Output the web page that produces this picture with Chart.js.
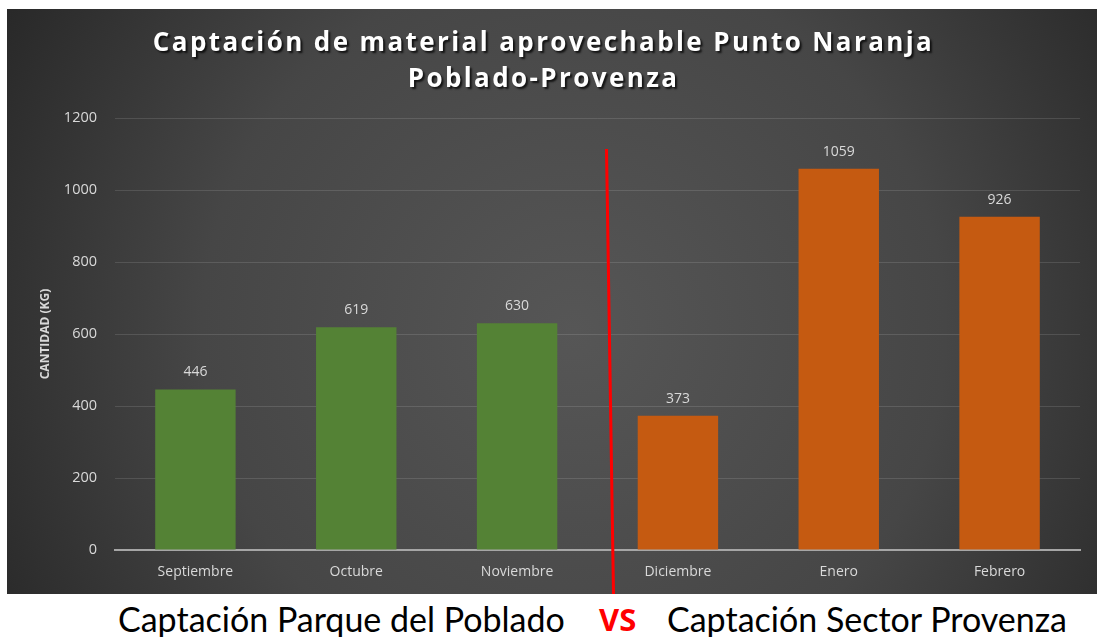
<!DOCTYPE html>
<html lang="es">
<head>
<meta charset="utf-8">
<title>Captación de material aprovechable Punto Naranja</title>
<script src="https://cdn.jsdelivr.net/npm/chart.js@4.4.1/dist/chart.umd.min.js"></script>
<style>
  html, body { margin: 0; padding: 0; background: #fff; width: 1097px; height: 637px; overflow: hidden; }
  #panel { position: absolute; left: 7px; top: 9px; width: 1090px; height: 585px; }
  .caption { position: absolute; top: 601px; font-family: Lato, 'Open Sans', sans-serif; font-size: 34px; line-height: 36px; color: #000; white-space: nowrap; }
  .vs { color: #ff0000; font-weight: bold; font-family: 'Open Sans', sans-serif; font-size: 31px; }
</style>
</head>
<body>
<div id="panel"><canvas id="chartMain"></canvas></div>
<div class="caption" style="left:118px;">Captación Parque del Poblado</div>
<div class="caption vs" style="left:599px;">VS</div>
<div class="caption" style="left:667px;">Captación Sector Provenza</div>

<script>
const months = ['Septiembre', 'Octubre', 'Noviembre', 'Diciembre', 'Enero', 'Febrero'];
const cantidadKg = [446, 619, 630, 373, 1059, 926];
const barColors = ['#548235', '#548235', '#548235', '#C55A11', '#C55A11', '#C55A11'];
const titleLines = ['Captación de material aprovechable Punto Naranja', 'Poblado-Provenza'];
const yAxisTitle = 'CANTIDAD (KG)';
const yRange = [0, 1200];
const yStep = 200;

const textColor = '#d9d9d9';

// dark radial background of the Excel chart area
const backgroundPlugin = {
  id: 'panelBackground',
  beforeDraw(chart) {
    const { ctx, width, height } = chart;
    const grad = ctx.createRadialGradient(width * 0.52, height * 0.55, 0, width * 0.52, height * 0.55, width * 0.62);
    grad.addColorStop(0, '#565656');
    grad.addColorStop(0.55, '#464646');
    grad.addColorStop(1, '#262626');
    ctx.save();
    ctx.fillStyle = grad;
    ctx.fillRect(0, 0, width, height);
    ctx.restore();
  },
  // title gets a drop shadow and wider letter spacing, like the Excel style
  afterLayout(chart) {
    const block = chart.titleBlock;
    if (!block || block._shadowed) return;
    const draw = block.draw.bind(block);
    block.draw = (...args) => {
      const ctx = chart.ctx;
      ctx.save();
      ctx.letterSpacing = '2.4px';
      ctx.shadowColor = 'rgba(0,0,0,0.75)';
      ctx.shadowOffsetX = 2;
      ctx.shadowOffsetY = 2;
      ctx.shadowBlur = 2;
      draw(...args);
      ctx.restore();
    };
    block._shadowed = true;
  }
};

const valueLabelsPlugin = {
  id: 'valueLabels',
  afterDatasetsDraw(chart) {
    const { ctx } = chart;
    const meta = chart.getDatasetMeta(0);
    ctx.save();
    ctx.font = '14px "Open Sans", sans-serif';
    ctx.fillStyle = textColor;
    ctx.textAlign = 'center';
    ctx.textBaseline = 'middle';
    meta.data.forEach((bar, i) => {
      ctx.fillText(String(cantidadKg[i]), bar.x, bar.y - 17);
    });
    ctx.restore();
  }
};

// red divider between the two sectors
const dividerPlugin = {
  id: 'sectorDivider',
  afterDatasetsDraw(chart) {
    const { ctx, scales } = chart;
    const mid = (scales.x.getPixelForValue(2) + scales.x.getPixelForValue(3)) / 2;
    const top = scales.y.getPixelForValue(1114);
    ctx.save();
    ctx.strokeStyle = '#ff0000';
    ctx.lineWidth = 3;
    ctx.beginPath();
    ctx.moveTo(mid + 9, top);
    ctx.lineTo(mid + 16, chart.height);
    ctx.stroke();
    ctx.restore();
  }
};

function buildChart() {
  const ctx = document.getElementById('chartMain').getContext('2d');
  return new Chart(ctx, {
    type: 'bar',
    data: {
      labels: months,
      datasets: [
        {
          label: 'Cantidad (kg)',
          data: cantidadKg,
          backgroundColor: barColors,
          borderWidth: 0,
          barPercentage: 0.5,
          categoryPercentage: 1
        }
      ]
    },
    options: {
      responsive: true,
      maintainAspectRatio: false,
      animation: false,
      layout: { padding: { left: 0, right: 17, top: 0, bottom: 0 } },
      plugins: {
        legend: { display: false },
        tooltip: { enabled: false },
        title: {
          display: true,
          text: titleLines,
          color: '#ffffff',
          font: { family: '"Open Sans", sans-serif', size: 26, weight: 'bold', lineHeight: 36 / 26 },
          padding: { top: 17, bottom: 20 }
        }
      },
      scales: {
        x: {
          grid: { display: false, drawTicks: false },
          border: { display: true, color: '#a6a6a6', width: 2 },
          ticks: { color: textColor, font: { family: '"Open Sans", sans-serif', size: 14 }, padding: 14 },
          afterFit: scale => { scale.height = 44; }
        },
        y: {
          min: yRange[0],
          max: yRange[1],
          grid: { color: 'rgba(255,255,255,0.12)', lineWidth: 1, drawTicks: false },
          border: { display: false },
          ticks: {
            stepSize: yStep,
            color: textColor,
            font: { family: '"Open Sans", sans-serif', size: 14.5 },
            padding: 18,
            callback: value => String(value)
          },
          title: {
            display: true,
            text: yAxisTitle,
            color: textColor,
            font: { family: '"Open Sans", sans-serif', size: 12, weight: 'bold' },
            padding: { top: 31, bottom: 0 }
          },
          afterFit: scale => { scale.width = 108; }
        }
      }
    },
    plugins: [backgroundPlugin, valueLabelsPlugin, dividerPlugin]
  });
}

buildChart();
</script>
</body>
</html>
